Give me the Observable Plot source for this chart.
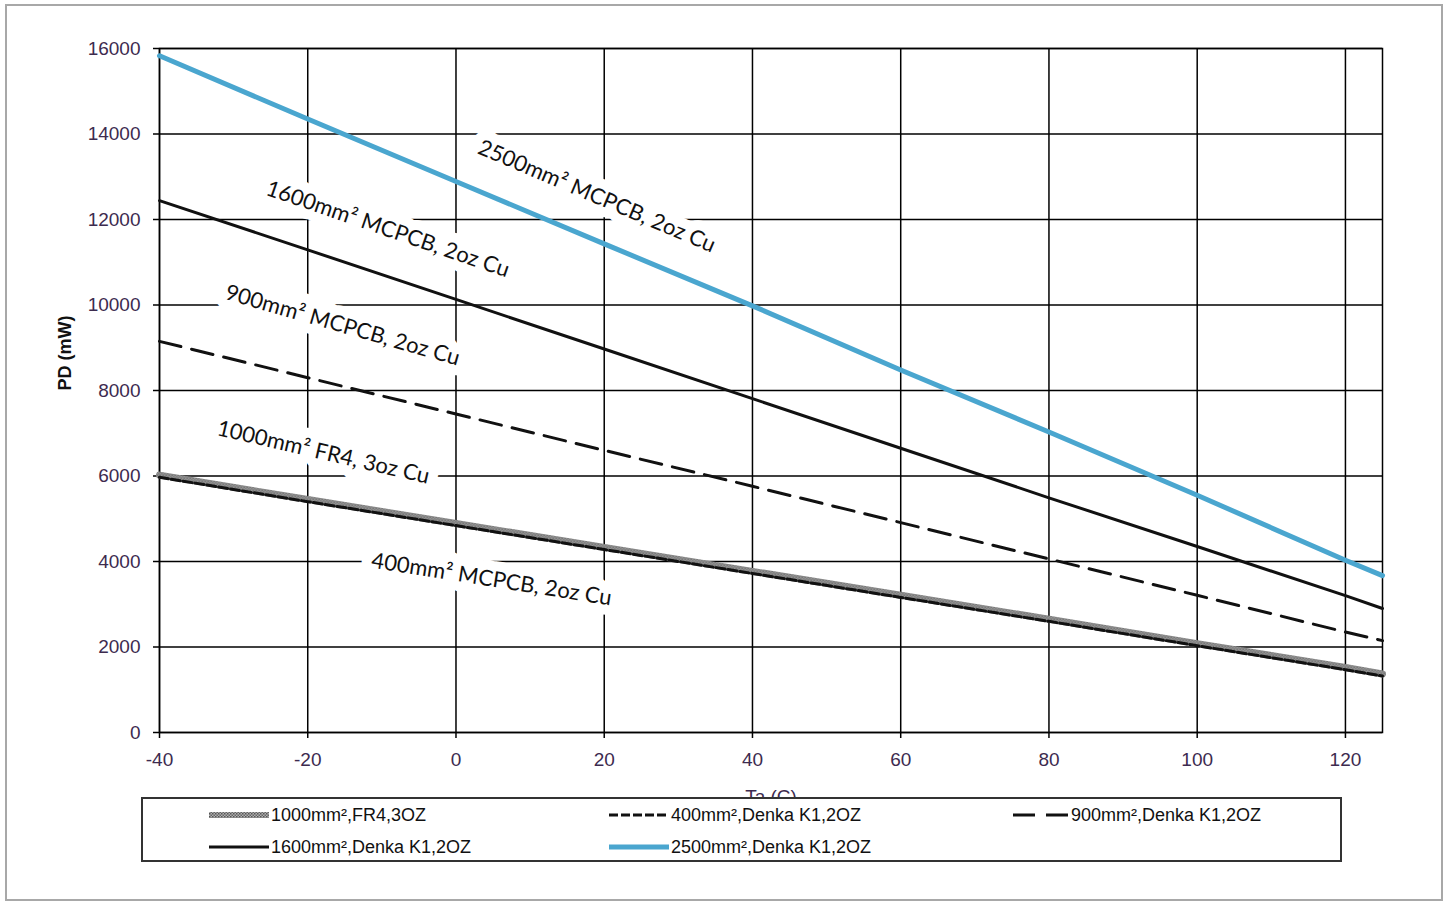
<!DOCTYPE html>
<html>
<head>
<meta charset="utf-8">
<script src="https://cdn.jsdelivr.net/npm/d3@7"></script>
<script src="https://cdn.jsdelivr.net/npm/@observablehq/plot@0.6"></script>
<style>
  html, body { margin: 0; padding: 0; background: #fff; }
  #page { position: relative; width: 1450px; height: 902px; overflow: hidden; }
  #border { position: absolute; left: 5px; top: 4px; width: 1434px; height: 893px; border: 2px solid #a8a8a8; }
  #chart { position: absolute; left: 0; top: 0; }
  #legend { position: absolute; left: 141px; top: 797px; width: 1197px; height: 61px; border: 2px solid #333; background: #fff;
            font-family: "Liberation Sans", Arial, sans-serif; font-size: 18px; color: #111; }
  .item { position: absolute; display: flex; align-items: center; height: 24px; }
  .item svg { margin-right: 2px; }
</style>
</head>
<body>
<div id="page">
  <div id="border"></div>
  <div id="chart"></div>
  <div id="legend"></div>
</div>
<script>
// ---- data ----
const temps = [-40, -20, 0, 20, 40, 60, 80, 100, 120, 125];
const pd2500 = [15830, 14350, 12890, 11430, 9980, 8480, 7030, 5550, 4030, 3670];
const pd1600 = [12440, 11290, 10130, 8970, 7810, 6650, 5490, 4350, 3200, 2900];
const pd900  = [9150, 8300, 7450, 6600, 5760, 4910, 4060, 3210, 2350, 2150];
const pdFR4  = [6020, 5450, 4890, 4330, 3770, 3210, 2650, 2080, 1520, 1370];
const pd400  = [5970, 5400, 4840, 4280, 3720, 3160, 2600, 2030, 1470, 1320];

const seriesNames = ["1000mm²,FR4,3OZ", "400mm²,Denka K1,2OZ", "900mm²,Denka K1,2OZ", "1600mm²,Denka K1,2OZ", "2500mm²,Denka K1,2OZ"];

const xTicks = [-40, -20, 0, 20, 40, 60, 80, 100, 120];
const yTicks = [0, 2000, 4000, 6000, 8000, 10000, 12000, 14000, 16000];

const noteText  = ["2500mm² MCPCB, 2oz Cu", "1600mm² MCPCB, 2oz Cu", "900mm² MCPCB, 2oz Cu", "1000mm² FR4, 3oz Cu", "400mm² MCPCB, 2oz Cu"];
const noteT     = [19, -9.2, -15.3, -17.9, 4.8];
const notePD    = [12540, 11770, 9520, 6550, 3580];
const noteAngle = [23, 19, 16, 13, 9];

const xLabel = "Ta (C)";
const yLabel = "PD (mW)";

// ---- styles ----
const blue = "#4aa6cf";
const tickColor = "#3d2b4f";

const plot = Plot.plot({
  width: 1450,
  height: 800,
  marginLeft: 159,
  marginRight: 68,
  marginTop: 48,
  marginBottom: 68,
  style: { fontFamily: "'Liberation Sans', Arial, sans-serif", fontSize: "19px", background: "transparent", overflow: "visible" },
  x: { domain: [-40, 125] },
  y: { domain: [0, 16000] },
  marks: [
    Plot.ruleY(yTicks, { stroke: "black", strokeWidth: 1.5 }),
    Plot.ruleX(xTicks, { stroke: "black", strokeWidth: 1.5 }),
    Plot.frame({ stroke: "black", strokeWidth: 1.5 }),
    Plot.axisY(yTicks, { tickSize: 6, tickPadding: 13, tickFormat: d => String(d), fill: tickColor, stroke: "black", strokeWidth: 1.5, label: null, fontSize: 19 }),
    Plot.axisX(xTicks, { tickSize: 6, tickPadding: 14, tickFormat: d => String(d), fill: tickColor, stroke: "black", strokeWidth: 1.5, label: null, fontSize: 19 }),
    Plot.text(noteText, { x: noteT, y: notePD, text: d => d, rotate: noteAngle, fontSize: 22, fontFamily: "Lato, 'Open Sans', sans-serif", fill: "#111", stroke: "white", strokeWidth: 20, strokeLinejoin: "round" }),
    Plot.line(pdFR4, { x: temps, y: d => d, stroke: "url(#fr4hatch)", strokeWidth: 7 }),
    Plot.line(pd400, { x: temps, y: d => d, stroke: "#111", strokeWidth: 3, strokeDasharray: "9,3" }),
    Plot.line(pd900, { x: temps, y: d => d, stroke: "#111", strokeWidth: 3, strokeDasharray: "22,11" }),
    Plot.line(pd1600, { x: temps, y: d => d, stroke: "#111", strokeWidth: 3 }),
    Plot.line(pd2500, { x: temps, y: d => d, stroke: blue, strokeWidth: 5 }),
    Plot.text([xLabel], { frameAnchor: "bottom", dy: 70, fontSize: 19, fill: tickColor }),
    Plot.text([yLabel], { frameAnchor: "left", dx: -94, rotate: -90, fontSize: 18, fontWeight: "bold", fill: "#111" })
  ]
});

// hatch pattern for FR4 line
const ns = "http://www.w3.org/2000/svg";
const defs = document.createElementNS(ns, "defs");
defs.innerHTML = '<pattern id="fr4hatch" width="3" height="3" patternUnits="userSpaceOnUse">' +
  '<rect width="3" height="3" fill="#b0b0b0"/><rect width="1.5" height="1.5" fill="#555"/><rect x="1.5" y="1.5" width="1.5" height="1.5" fill="#666"/></pattern>';
plot.insertBefore(defs, plot.firstChild);
document.getElementById("chart").appendChild(plot);

// ---- legend ----
const swatches = [
  '<svg width="60" height="10"><line x1="0" y1="5" x2="60" y2="5" stroke="url(#fr4hatchL)" stroke-width="6"/><defs><pattern id="fr4hatchL" width="3" height="3" patternUnits="userSpaceOnUse"><rect width="3" height="3" fill="#b0b0b0"/><rect width="1.5" height="1.5" fill="#555"/><rect x="1.5" y="1.5" width="1.5" height="1.5" fill="#666"/></pattern></defs></svg>',
  '<svg width="60" height="10"><line x1="0" y1="5" x2="60" y2="5" stroke="#111" stroke-width="3" stroke-dasharray="9,3"/></svg>',
  '<svg width="56" height="10"><line x1="0" y1="5" x2="56" y2="5" stroke="#111" stroke-width="3" stroke-dasharray="22,11"/></svg>',
  '<svg width="60" height="10"><line x1="0" y1="5" x2="60" y2="5" stroke="#111" stroke-width="3"/></svg>',
  '<svg width="60" height="10"><line x1="0" y1="5" x2="60" y2="5" stroke="' + blue + '" stroke-width="5"/></svg>'
];
const legendPos = [[66, 4], [466, 4], [870, 4], [66, 36], [466, 36]];
const legend = document.getElementById("legend");
seriesNames.forEach((name, i) => {
  const div = document.createElement("div");
  div.className = "item";
  div.style.left = legendPos[i][0] + "px";
  div.style.top = legendPos[i][1] + "px";
  div.innerHTML = swatches[i];
  const span = document.createElement("span");
  span.textContent = name;
  div.appendChild(span);
  legend.appendChild(div);
});
</script>
</body>
</html>
